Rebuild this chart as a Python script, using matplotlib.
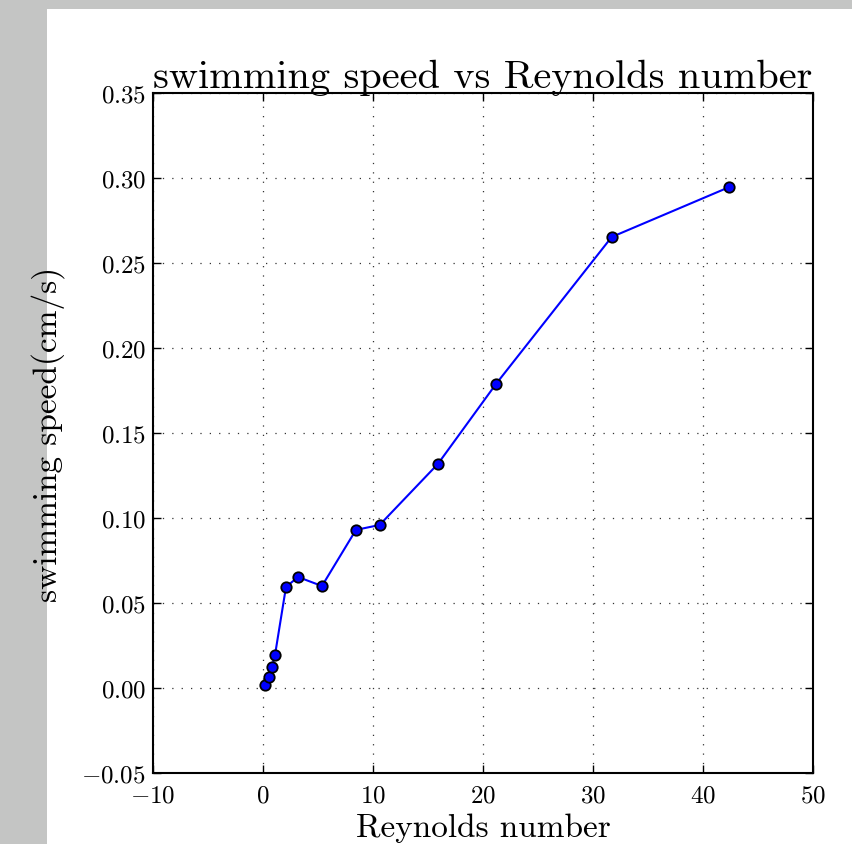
import matplotlib
matplotlib.use("Agg")
import matplotlib.pyplot as plt
from matplotlib.patches import Rectangle

reynolds = [0.18, 0.55, 0.82, 1.09, 2.09, 3.18, 5.36, 8.45, 10.6, 15.9, 21.2, 31.7, 42.4]
speed = [0.0018, 0.0065, 0.0124, 0.0194, 0.0594, 0.0653, 0.0600, 0.0930, 0.0959,
         0.1318, 0.1790, 0.2653, 0.2947]
xticks = [-10, 0, 10, 20, 30, 40, 50]
yticks = [-0.05, 0.0, 0.05, 0.10, 0.15, 0.20, 0.25, 0.30, 0.35]

plt.rcParams['font.family'] = 'cmr10'
plt.rcParams['mathtext.fontset'] = 'cm'
plt.rcParams['axes.formatter.use_mathtext'] = True

W, H = 853, 845
fig = plt.figure(figsize=(W / 100, H / 100), dpi=100)
fig.patch.set_facecolor('white')
gray = '#c4c5c4'
fig.patches.append(Rectangle((0, 0), 47 / W, 1, transform=fig.transFigure,
                             facecolor=gray, edgecolor='none', zorder=-10))
fig.patches.append(Rectangle((0, 1 - 10 / H), 1, 10 / H, transform=fig.transFigure,
                             facecolor=gray, edgecolor='none', zorder=-10))

ax = fig.add_axes([153 / W, 1 - 774 / H, (813 - 153) / W, (774 - 94) / H])
ax.plot(reynolds, speed, '-o', color='blue', lw=1.5, markersize=7.5,
        markerfacecolor='blue', markeredgecolor='black', markeredgewidth=1.3)
ax.set_xlim(-10, 50)
ax.set_ylim(-0.05, 0.35)
ax.set_xticks(xticks)
ax.set_yticks(yticks)
ax.set_yticklabels(['$%.2f$' % v for v in yticks])
ax.set_xticklabels(['$%d$' % v for v in xticks])
ax.grid(True, color='#333333', linestyle=(0, (1, 6.5)), linewidth=0.9)
ax.tick_params(direction='in', top=True, right=True, length=6, width=1, labelsize=18)
ax.tick_params(axis='x', pad=8)
ax.tick_params(axis='y', pad=5)
for s in ax.spines.values():
    s.set_linewidth(1.5)
ax.set_title('swimming speed vs Reynolds number', fontsize=29, pad=4)
ax.set_xlabel('Reynolds number', fontsize=24)
ax.set_ylabel('swimming speed(cm/s)', fontsize=24)
ax.xaxis.set_label_coords(0.5, -0.058)
ax.yaxis.set_label_coords(-0.133, 0.5)

fig.savefig('out.png', dpi=100, facecolor=fig.get_facecolor())
